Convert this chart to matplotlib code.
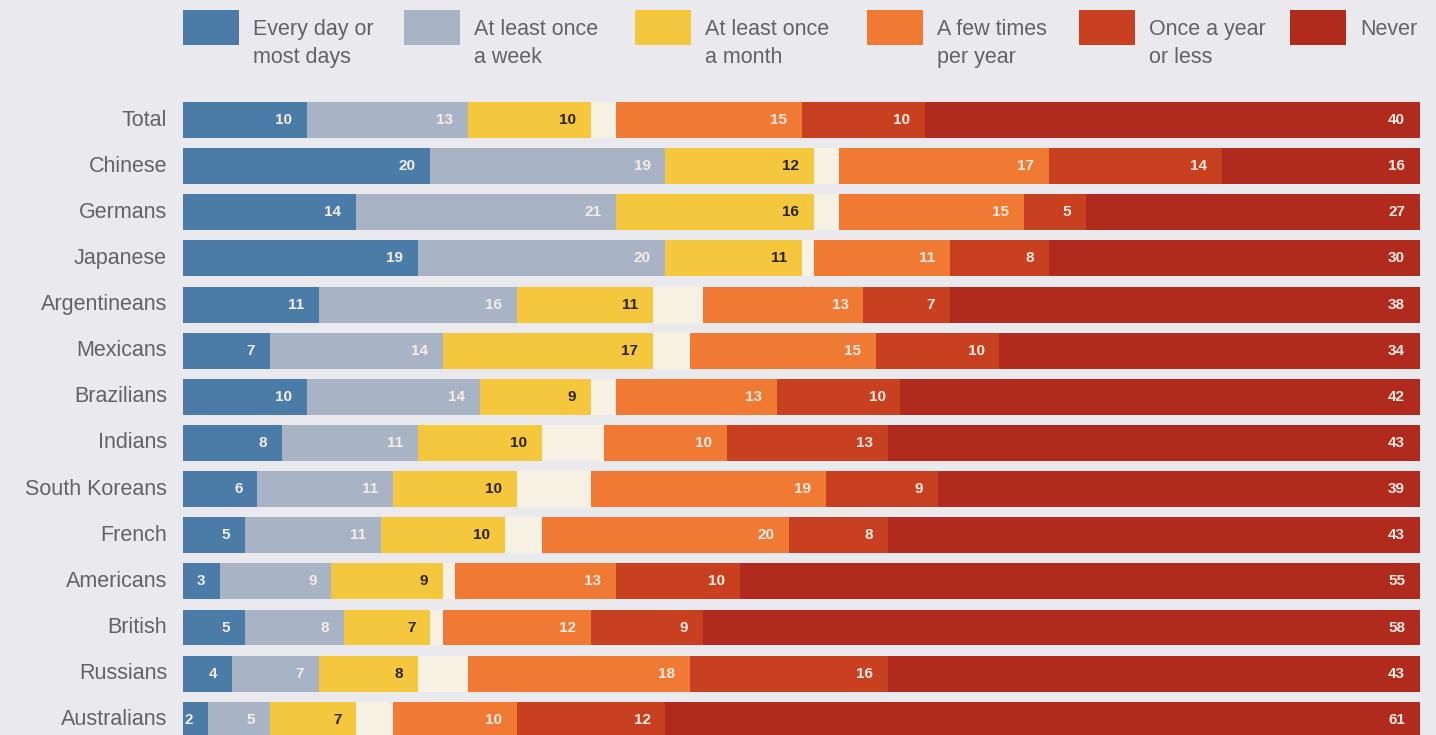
"""Stacked horizontal bars: how often people do something, by nationality."""

import matplotlib

matplotlib.use("Agg")
import matplotlib.pyplot as plt
from matplotlib.patches import Rectangle

groups = ["Total", "Chinese", "Germans", "Japanese", "Argentineans", "Mexicans",
          "Brazilians", "Indians", "South Koreans", "French", "Americans",
          "British", "Russians", "Australians"]

every_day = [10, 20, 14, 19, 11, 7, 10, 8, 6, 5, 3, 5, 4, 2]
weekly = [13, 19, 21, 20, 16, 14, 14, 11, 11, 11, 9, 8, 7, 5]
monthly = [10, 12, 16, 11, 11, 17, 9, 10, 10, 10, 9, 7, 8, 7]
few_per_year = [15, 17, 15, 11, 13, 15, 13, 10, 19, 20, 13, 12, 18, 10]
yearly_or_less = [10, 14, 5, 8, 7, 10, 10, 13, 9, 8, 10, 9, 16, 12]
never = [40, 16, 27, 30, 38, 34, 42, 43, 39, 43, 55, 58, 43, 61]

legend_labels = ["Every day or\nmost days", "At least once\na week",
                 "At least once\na month", "A few times\nper year",
                 "Once a year\nor less", "Never"]

BG = "#e9e9ee"
COLORS = ["#4b7ca8", "#a8b3c5", "#f4c73d", "#f07a34", "#c8401f", "#b02a1d"]
GAP_COLOR = "#f6f1e3"
TEXT_GRAY = "#626268"
LABEL_FONT = ["Liberation Sans Narrow", "Liberation Sans", "DejaVu Sans"]

series = [every_day, weekly, monthly, few_per_year, yearly_or_less, never]

fig = plt.figure(figsize=(14.36, 7.35), dpi=100, facecolor=BG)
ax = fig.add_axes([183 / 1436, 0.0, (1420 - 183) / 1436, (735 - 95) / 735])
ax.set_facecolor(BG)

rows = list(range(len(groups)))
bar_h = 0.78
pad = 1.2

for i in rows:
    left = 0.0
    for k, vals in enumerate(series):
        v = vals[i]
        if k == 3:
            # unanswered share drawn as a pale gap before the "few times" block
            gap = 100 - sum(s[i] for s in series)
            ax.barh(i, gap, left=left, height=bar_h, color=GAP_COLOR, linewidth=0)
            left += gap
        ax.barh(i, v, left=left, height=bar_h, color=COLORS[k], linewidth=0)
        txt_color = "#2a2218" if k == 2 else "#f6ece4"
        ax.text(left + v - pad, i, str(v), ha="right", va="center",
                fontsize=11, fontweight="bold", color=txt_color,
                family=LABEL_FONT)
        left += v

ax.set_xlim(0, 100)
ax.set_ylim(13.33, -0.542)
ax.set_yticks(rows)
ax.set_yticklabels(groups, fontsize=15.5, color=TEXT_GRAY,
                   family=["Liberation Sans"], va="center")
ax.tick_params(axis="y", length=0, pad=11.5)
ax.set_xticks([])
for sp in ax.spines.values():
    sp.set_visible(False)

# legend across the top
legend_x = [183, 404, 635, 867, 1079, 1290]
for x, c, lab in zip(legend_x, COLORS, legend_labels):
    fig.add_artist(Rectangle((x / 1436, 1 - 45 / 735), 56 / 1436, 35 / 735,
                             transform=fig.transFigure, color=c, linewidth=0))
    fig.text((x + 70) / 1436, 1 - 19 / 735, lab, ha="left", va="top",
             fontsize=15.5, color=TEXT_GRAY, linespacing=1.45,
             family=["Liberation Sans"])

fig.savefig("out.png", dpi=100, facecolor=BG)
